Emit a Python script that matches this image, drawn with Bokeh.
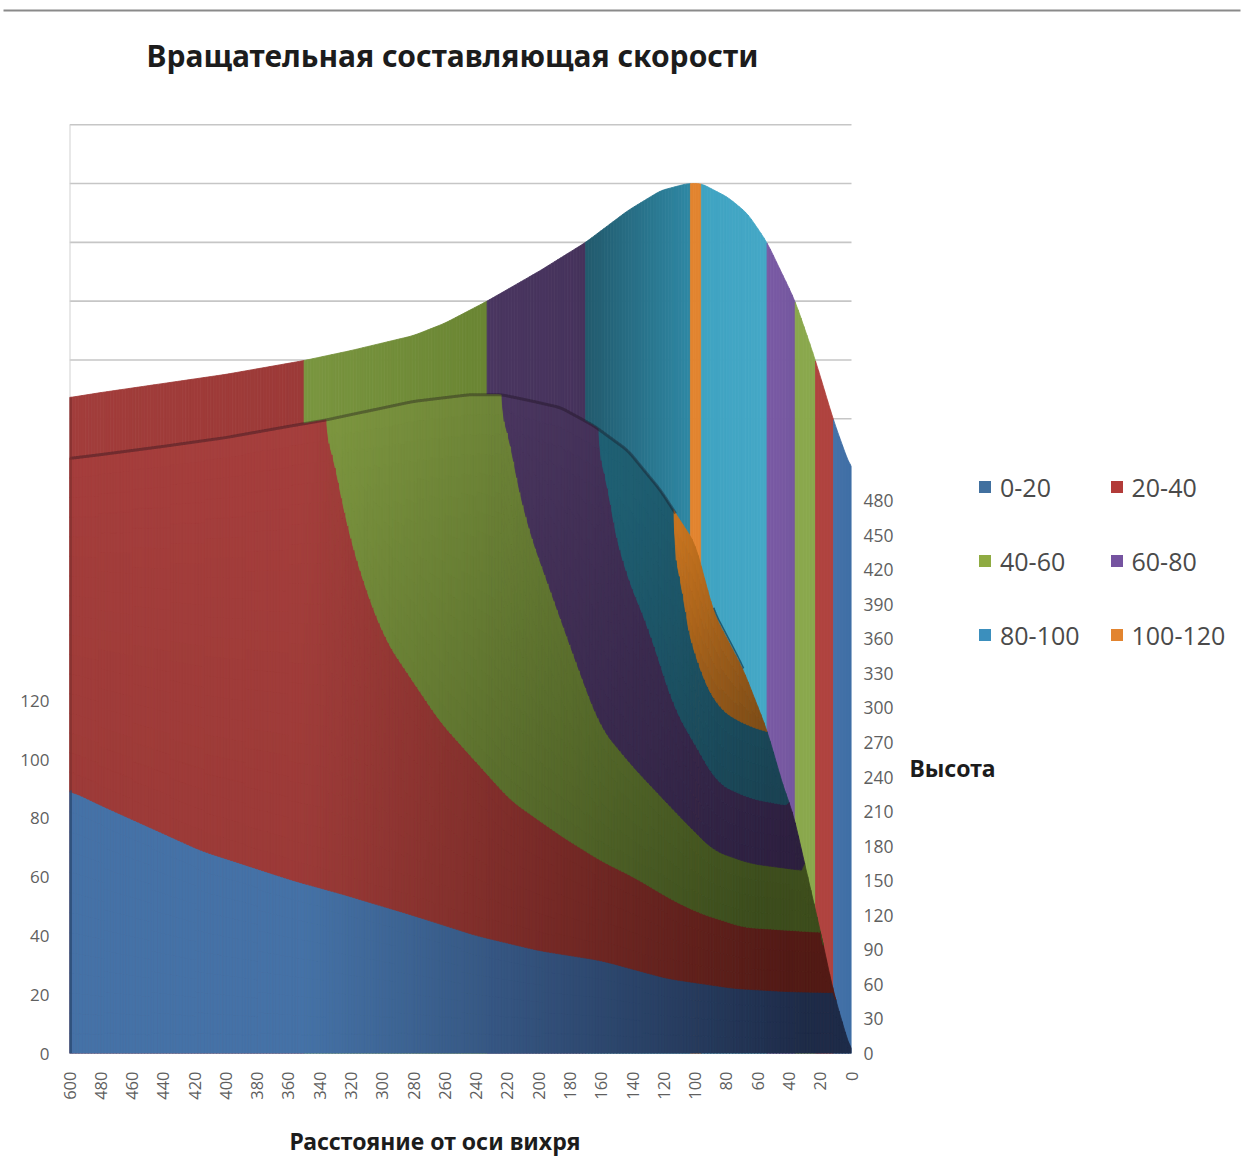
from bokeh.embed import file_html
from bokeh.layouts import column, row
from bokeh.resources import INLINE
from bokeh.plotting import figure
from bokeh.models import (ColumnDataSource, FixedTicker, Label, Legend, LegendItem,
                          LinearAxis, Range1d, Title)
from bokeh.core.properties import value
import numpy as np

TITLE = "Вращательная составляющая скорости"
X_TITLE = "Расстояние от оси вихря"
Z_TITLE = "Высота"
BANDS = ["0-20", "20-40", "40-60", "60-80", "80-100", "100-120"]
DISTANCE_TICKS = [0, 20, 40, 60, 80, 100, 120, 140, 160, 180, 200, 220, 240, 260, 280, 300, 320,
                  340, 360, 380, 400, 420, 440, 460, 480, 600]
SPEED_TICKS = [0, 20, 40, 60, 80, 100, 120]
HEIGHT_TICKS = list(range(0, 481, 30))
WALL_LEVELS = [40, 60, 80, 100, 120, 140]
WALL_SHIFT = 175.9

# Speed profile along the far edge of the surface
CREST_D = [600, 480, 440, 400, 350, 320, 280, 260, 233, 199, 170, 143, 122, 105, 96, 79, 66.5, 54, 36, 23, 11.5, 0]
CREST_V = [47.2, 48.9, 52, 55.1, 59.8, 63.2, 68.3, 72.5, 80, 90.4, 100, 110.8, 117.6, 120, 120, 115.3, 109.8,
           100, 80, 59.8, 39.4, 22.4]

# Edges of the bands seen on the far side of the fold
FAR_EDGES = [600, 350, 233, 170, 103, 96, 54, 36, 23, 11.5, 0]
FAR_BANDS = [1, 2, 3, 4, 5, 4, 3, 2, 1, 0]

# Upper outline of the near part of the surface
FOLD_D = [600, 480, 440, 400, 360, 335, 320, 280, 244, 224, 205, 186, 165, 143, 122, 112.5, 100, 88, 69,
          54, 42, 38, 29.4, 20, 11.5, 0]
FOLD_V = [202.4, 203.7, 206.5, 209.5, 213.3, 215.6, 217.3, 221.8, 224.1, 224.1, 222, 219.7, 213.6, 205.1,
          191.5, 183.7, 173.5, 149.7, 130.3, 109.9, 87.8, 83.3, 63.3, 41.8, 20.7, 0]

# Contours between neighbouring speed bands on the near part
C20_D = [600, 480, 440, 416, 357, 327, 280, 240, 200, 160, 118, 75, 39, 11.5]
C20_V = [89.5, 84.4, 74.8, 69, 58.8, 54.4, 46.9, 40.1, 35, 31.6, 25.5, 22.1, 21, 20.7]
C40_D = [335, 330, 323.5, 312.7, 298, 262.8, 218, 186, 160.5, 139, 114, 96.5, 69, 20]
C40_V = [215.6, 198.3, 181.3, 160.9, 140.5, 112.6, 86.1, 74.1, 65.6, 59.9, 52, 47.6, 42.9, 41.2]
C60_D = [223, 218, 208.4, 192.5, 176.5, 160.5, 139.4, 109.3, 88.2, 64.6, 30.7]
C60_V = [223.5, 205.1, 181.3, 157.5, 133.7, 110.9, 97.3, 80.3, 69, 64.6, 62.2]
C80_D = [160.5, 156, 145.8, 128.5, 113.8, 85.7, 64.6, 42]
C80_V = [211.9, 188.1, 165.3, 142.9, 117.7, 91.8, 86.7, 84.4]
C100_D = [112.5, 112, 109.3, 103, 96.5, 85.7, 71, 53.7]
C100_V = [183, 167.7, 154.1, 140.5, 129.3, 117.7, 112.6, 109.2]

LEGEND_COLORS = ["#41709f", "#b23b39", "#8fab42", "#7553a0", "#3b8fbd", "#e2842f"]
NEAR_COLORS = [("#4572a7", "#1e2b48"), ("#a63f3d", "#521a15"), ("#7d9640", "#3c4c1c"),
               ("#4a365f", "#2c1f3e"), ("#1f6073", "#1a4252"), ("#c8741f", "#7a4a16")]
# distance range, weight of sideways shading, value range for vertical shading
NEAR_SHADE = [(352, 30, 1.0, 300, 0), (352, 40, 0.85, 220, 30), (330, 60, 0.6, 220, 50),
              (220, 30, 0.5, 220, 70), (160, 50, 0.4, 190, 85), (110, 50, 0.3, 180, 110)]
FAR_COLORS = [("#a23d3b", "#9c3a38"), ("#7a9640", "#6a8533"), ("#4a3660", "#46335c"),
              ("#225a6d", "#2f88a4"), ("#e2842f", "#e2842f"), ("#3fa3c2", "#45a8c6"),
              ("#7a5ba5", "#75579f"), ("#8aa84d", "#8aa84d"), ("#b0433f", "#b0433f"), ("#4472a8", "#3f6ea5")]


def to_pos(d):
    return np.interp(d, DISTANCE_TICKS, np.arange(len(DISTANCE_TICKS)))


FINE = np.arange(0, 25.0001, 0.025)


def profile(ds, vs, window=31):
    """Evaluate a curve on the fine grid with its corners rounded off, NaN outside its span."""
    p = to_pos(np.array(ds, float))
    order = np.argsort(p)
    p, v = p[order], np.array(vs, float)[order]
    y = np.interp(FINE, p, v)
    pad = window // 2
    y = np.convolve(np.pad(y, pad, mode="edge"), np.ones(window) / window, mode="valid")
    y[(FINE < p[0]) | (FINE > p[-1])] = np.nan
    return y


def mix(pair, t):
    a = np.array([int(pair[0][i:i + 2], 16) for i in (1, 3, 5)], float)
    b = np.array([int(pair[1][i:i + 2], 16) for i in (1, 3, 5)], float)
    c = a + (b - a) * t
    return "#%02x%02x%02x" % tuple(int(round(k)) for k in c)


crest = profile(CREST_D, CREST_V, 15) + WALL_SHIFT
fold = profile(FOLD_D, FOLD_V, 15)
contours = []
for ds, vs in ((C20_D, C20_V), (C40_D, C40_V), (C60_D, C60_V), (C80_D, C80_V), (C100_D, C100_V)):
    c = profile(ds, vs)
    contours.append(np.where(np.isnan(c), fold, np.minimum(c, fold)))

# Stacked band limits on the near part, from the floor to the fold
stack = [np.zeros_like(fold)] + contours + [fold]
for i in range(1, len(stack)):
    stack[i] = np.maximum(stack[i], stack[i - 1])

xs, ys, colors = [], [], []

# Far side: one set of columns per band, running from the far edge down to the floor
for k, col in enumerate(FAR_BANDS):
    a, b = to_pos(FAR_EDGES[k]), to_pos(FAR_EDGES[k + 1])
    n = max(1, int(np.ceil((a - b) / 0.1)))
    edges = np.linspace(a, b, n + 1)
    tops = np.interp(edges, FINE, crest)
    for j in range(n):
        xs.append([edges[j], edges[j + 1], edges[j + 1], edges[j]])
        ys.append([tops[j], tops[j + 1], 0, 0])
        colors.append(mix(FAR_COLORS[k], (j + 0.5) / n))

# Near side: columns cut into cells between the contours
STEP = 4
for i in range(0, len(FINE) - STEP, STEP):
    j = i + STEP
    d_mid = float(np.interp((FINE[i] + FINE[j]) / 2, np.arange(len(DISTANCE_TICKS)), DISTANCE_TICKS))
    for b in range(6):
        l0, l1, u0, u1 = stack[b][i], stack[b][j], stack[b + 1][i], stack[b + 1][j]
        if max(u0 - l0, u1 - l1) < 0.02:
            continue
        d0, d1, wx, vh, vl = NEAR_SHADE[b]
        tx = np.clip((d0 - d_mid) / (d0 - d1), 0, 1)
        cells = max(1, int(np.ceil(max(u0 - l0, u1 - l1) / 7)))
        for c in range(cells):
            f0, f1 = c / cells, (c + 1) / cells
            y00, y01 = l0 + (u0 - l0) * f0, l1 + (u1 - l1) * f0
            y10, y11 = l0 + (u0 - l0) * f1, l1 + (u1 - l1) * f1
            ty = np.clip((vh - (y00 + y11) / 2) / (vh - vl), 0, 1)
            xs.append([FINE[i], FINE[j], FINE[j], FINE[i]])
            ys.append([y00, y01, y11, y10])
            colors.append(mix(NEAR_COLORS[b], wx * tx + (1 - wx) * ty))

W, H = 1243, 1176
STRIP_H = 20
MAIN_W = 910
FRAME_L, FRAME_R, FRAME_B = 69, MAIN_W - 851, 123
FRAME_H = H - STRIP_H - FRAME_B

# Rule across the head of the page
strip = figure(width=W, height=STRIP_H, output_backend="svg", toolbar_location=None,
               x_range=Range1d(0, W), y_range=Range1d(0, STRIP_H), min_border=0,
               outline_line_color=None, x_axis_location=None, y_axis_location=None)
strip.grid.visible = False
strip.line([3, 1240], [STRIP_H - 10, STRIP_H - 10], line_color="#8a8a8a", line_width=2)

p = figure(width=MAIN_W, height=H - STRIP_H, output_backend="svg", toolbar_location=None,
           x_range=Range1d(25, 0), y_range=Range1d(0, FRAME_H / 2.94),
           min_border_left=FRAME_L, min_border_right=FRAME_R, min_border_bottom=FRAME_B, min_border_top=0,
           outline_line_color=None, border_fill_color="white", background_fill_color="white")
p.grid.visible = False

# Back wall: level lines and the vertical edge
wall_x = [[25, -0.06] for _ in WALL_LEVELS]
wall_y = [[v + WALL_SHIFT, v + WALL_SHIFT] for v in WALL_LEVELS]
p.multi_line(wall_x, wall_y, line_color="#c6c6c6", line_width=1.6)
p.line([25, 25], [0, WALL_LEVELS[-1] + WALL_SHIFT], line_color="#d2d2d2", line_width=2)

src = ColumnDataSource(dict(xs=xs, ys=ys, c=colors))
p.patches("xs", "ys", source=src, fill_color="c", line_color="c", line_width=0.8)

# Dark seam along the fold and the shaded left rim
seam = FINE >= to_pos(112.5)
p.line(FINE[seam], fold[seam], line_color="#1a0f1a", line_alpha=0.36, line_width=3)
streak = (FINE >= to_pos(69)) & (FINE <= to_pos(88))
p.line(FINE[streak], fold[streak] + 1, line_color="#133c50", line_alpha=0.7, line_width=1.5)
p.line([24.97, 24.97], [0, C20_V[0]], line_color="#2b4a72", line_width=3, line_alpha=0.8)
p.line([24.97, 24.97], [C20_V[0], CREST_V[0] + WALL_SHIFT], line_color="#7a2d2b", line_width=3, line_alpha=0.6)

# Axes
p.xaxis.ticker = FixedTicker(ticks=list(range(len(DISTANCE_TICKS))))
p.xaxis.major_label_overrides = {i: str(d) for i, d in enumerate(DISTANCE_TICKS)}
p.xaxis.major_label_orientation = np.pi / 2
p.xaxis.major_label_standoff = 12
p.yaxis.ticker = FixedTicker(ticks=SPEED_TICKS)
p.yaxis.major_label_standoff = 14

p.extra_y_ranges = {"height": Range1d(0, FRAME_H / 1.152)}
right = LinearAxis(y_range_name="height", ticker=FixedTicker(ticks=HEIGHT_TICKS))
right.major_label_standoff = 6
p.add_layout(right, "right")

for ax, size in ((p.xaxis[0], "16.5px"), (p.yaxis[0], "17px"), (right, "17.5px")):
    ax.axis_line_color = None
    ax.major_tick_line_color = None
    ax.minor_tick_line_color = None
    ax.major_label_text_font = "Open Sans"
    ax.major_label_text_font_size = size
    ax.major_label_text_color = "#5f5f5f"

p.add_layout(Label(x=452 - FRAME_L, y=FRAME_H - (55 - STRIP_H), x_units="screen", y_units="screen", text=TITLE,
                   text_font="Noto Sans", text_font_style="bold", text_font_size="30px",
                   text_color="#1c1c1c", text_align="center", text_baseline="middle"))
p.add_layout(Title(text=X_TITLE, align="left", offset=289 - FRAME_L, standoff=40, text_font="Noto Sans",
                   text_font_style="bold", text_font_size="23px", text_color="#1c1c1c"), "below")

# Side panel with the height caption and the legend; its frame lines up with the main one
q = figure(width=W - MAIN_W, height=H - STRIP_H, output_backend="svg", toolbar_location=None,
           x_range=Range1d(MAIN_W, W), y_range=Range1d(0, FRAME_H), min_border=0,
           outline_line_color=None, x_axis_location=None, y_axis_location=None)
q.grid.visible = False
q.text([952], [FRAME_H + STRIP_H - 767], text=[Z_TITLE], text_font=value("Noto Sans"), text_font_style="bold",
       text_font_size="23px", text_color="#1c1c1c", text_align="center", text_baseline="middle")

# Keys lie past the panel's range, so only their legend swatches show
keys = {}
for name, col in zip(BANDS, LEGEND_COLORS):
    keys[name] = q.quad(left=[W + 50], right=[W + 60], top=[10], bottom=[0], fill_color=col, line_color=None)
LEGEND_ORDER = [0, 2, 4, 1, 3, 5]
items = [LegendItem(label=BANDS[i], renderers=[keys[BANDS[i]]]) for i in LEGEND_ORDER]
legend = Legend(items=items, ncols=2, location=(977 - MAIN_W, FRAME_H + STRIP_H - 657), background_fill_alpha=0,
                border_line_alpha=0,
                glyph_width=15, glyph_height=15, label_text_font="Open Sans", label_text_font_size="25px",
                label_text_color="#4a4a4a", label_standoff=8, label_height=45, spacing=29, margin=0, padding=0)
q.add_layout(legend)

page = column(strip, row(p, q, spacing=0), spacing=0)
open("out.html", "w").write(file_html(page, INLINE))
